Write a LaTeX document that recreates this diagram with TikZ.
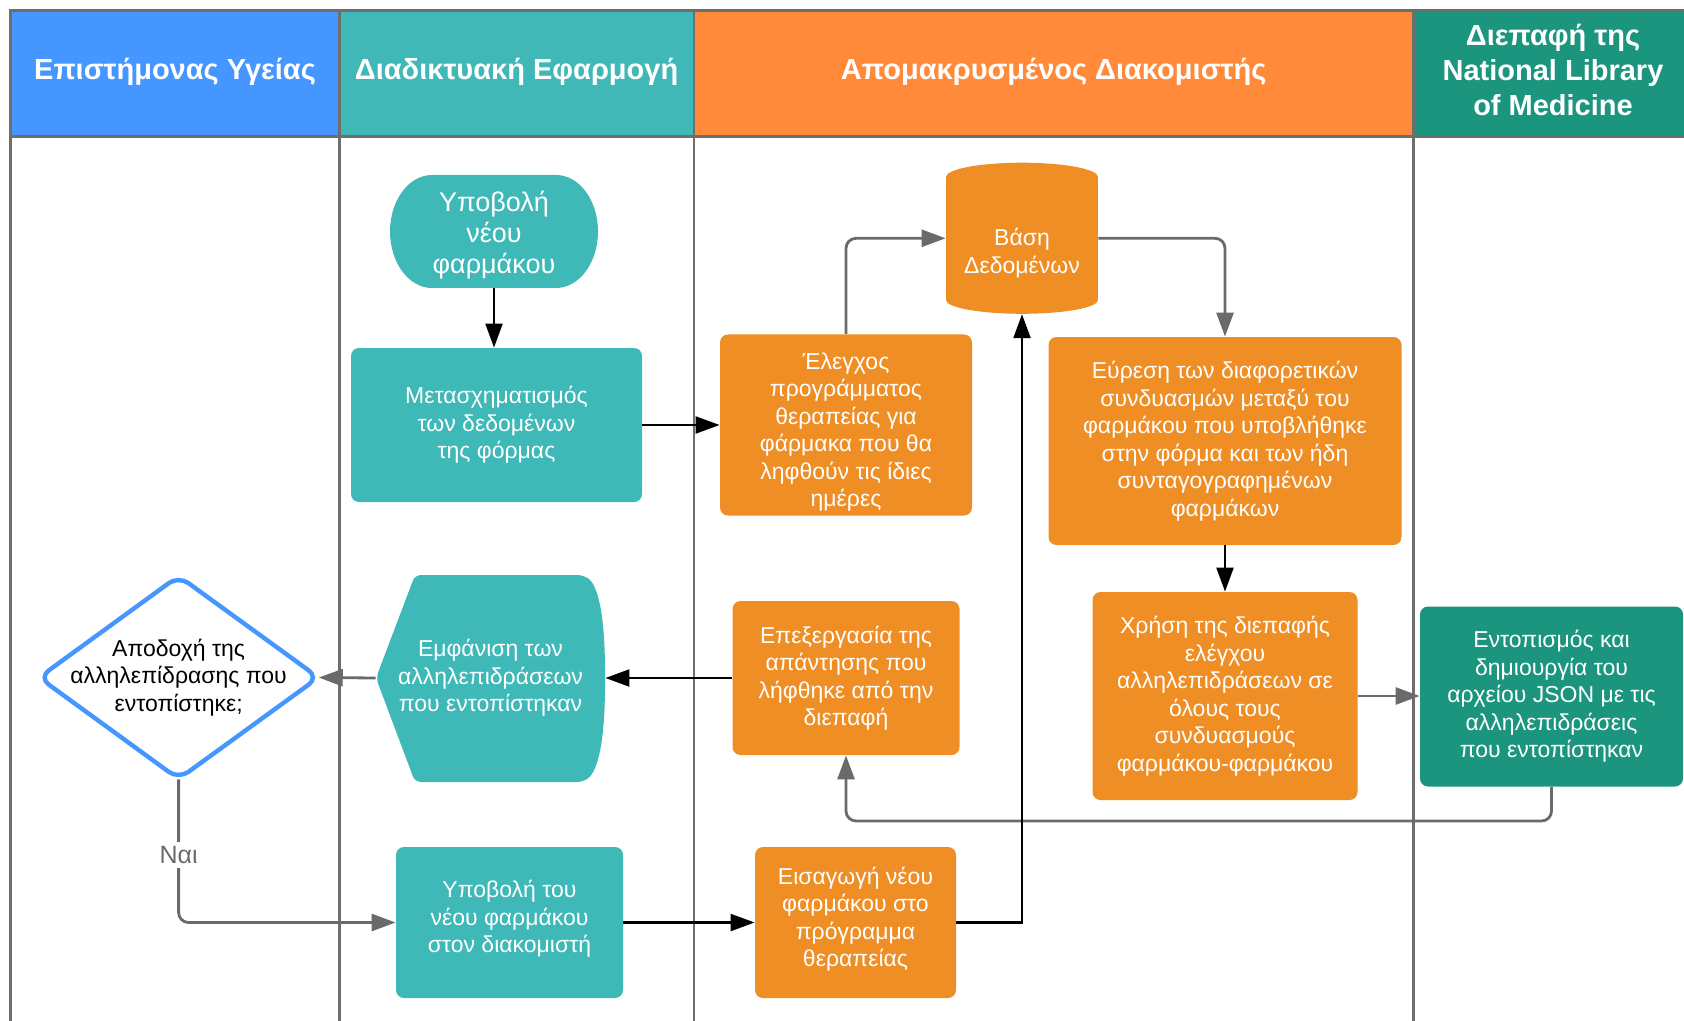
\documentclass[tikz,border=0pt]{standalone}
\usepackage{fontspec}
\setmainfont{Liberation Sans}
\usetikzlibrary{arrows.meta}

\definecolor{laneblue}{HTML}{4596FF}
\definecolor{laneteal}{HTML}{40B8B8}
\definecolor{laneorange}{HTML}{FF8A3A}
\definecolor{lanegreen}{HTML}{1B957E}
\definecolor{nodeteal}{HTML}{3FB8B8}
\definecolor{nodeorange}{HTML}{EF8E25}
\definecolor{framegray}{HTML}{6E6E6E}
\definecolor{linegray}{HTML}{6A6A6A}

\tikzset{
  lanetitle/.style={font=\bfseries\fontsize{14.5}{17.5}\selectfont, text=white, align=center},
  boxtext/.style={font=\fontsize{11.5}{13.75}\selectfont, align=center, inner sep=0pt},
  box/.style={boxtext, rounded corners=4pt, text=white},
  tealbox/.style={box, fill=nodeteal},
  orangebox/.style={box, fill=nodeorange},
  greenbox/.style={box, fill=lanegreen},
  framerule/.style={draw=framegray, line width=1.3pt},
  flow/.style={draw=black, line width=1.1pt, -{Triangle[length=12pt,width=8.5pt]}},
  gflow/.style={draw=linegray, line width=1.4pt, rounded corners=5pt, -{Triangle[length=12pt,width=8.5pt]}}
}

\begin{document}
\begin{tikzpicture}[x=0.5pt,y=-0.5pt]
\useasboundingbox (0,0) rectangle (1684,1021);
\clip (0,0) rectangle (1684,1021);

% lane headers
\fill[laneblue]   (10.7,10.7)   rectangle (339.4,136.4);
\fill[laneteal]   (339.4,10.7)  rectangle (693.8,136.4);
\fill[laneorange] (693.8,10.7)  rectangle (1413.4,136.4);
\fill[lanegreen]  (1413.4,10.7) rectangle (1700,136.4);

% pool frame and lane dividers
\draw[framerule] (1700,10.7) -- (10.7,10.7) -- (10.7,1040);
\draw[framerule] (10.7,136.4) -- (1700,136.4);
\draw[framerule] (339.4,10.7) -- (339.4,1040);
\draw[framerule] (693.8,10.7) -- (693.8,1040);
\draw[framerule] (1413.4,10.7) -- (1413.4,1040);

\node[lanetitle] (h1) at (175,72) {Επιστήμονας Υγείας};
\node[lanetitle] (h2) at (516.6,72) {Διαδικτυακή Εφαρμογή};
\node[lanetitle] (h3) at (1053.6,72) {Απομακρυσμένος Διακομιστής};
\node[lanetitle] (h4) at (1553,70) {Διεπαφή της\\National Library\\of Medicine};

% terminal: submission of a new drug
\fill[nodeteal] (432,175) -- (556,175)
  .. controls (579.2,175) and (598,200.3) .. (598,231.5)
  .. controls (598,262.7) and (579.2,288) .. (556,288)
  -- (432,288)
  .. controls (408.8,288) and (390,262.7) .. (390,231.5)
  .. controls (390,200.3) and (408.8,175) .. (432,175) -- cycle;
\node[inner sep=0pt, minimum width=104pt, minimum height=56.5pt] (start) at (494,231.5) {};
\node[boxtext, font=\fontsize{13.5}{15.4}\selectfont, text=white] (starttext) at (494,235)
  {Υποβολή\\νέου\\φαρμάκου};

\node[tealbox, minimum width=145.5pt, minimum height=77pt] (form) at (496.5,425)
  {Μετασχηματισμός\\των δεδομένων\\της φόρμας};

\node[orangebox, minimum width=126pt, minimum height=90.5pt] (check) at (846,425) {};
\node[boxtext, text=white] (checktext) at (846,432)
  {Έλεγχος\\προγράμματος\\θεραπείας για\\φάρμακα που θα\\ληφθούν τις ίδιες\\ημέρες};

% database cylinder
\fill[nodeorange] (946,177) rectangle (1098,300);
\fill[nodeorange] (1022,177) ellipse [x radius=76, y radius=14.3];
\fill[nodeorange] (1022,300) ellipse [x radius=76, y radius=13.8];
\node[inner sep=0pt, minimum width=76pt, minimum height=75.5pt] (db) at (1022,238.3) {};
\node[boxtext, text=white] (dbtext) at (1022,253) {Βάση\\Δεδομένων};

\node[orangebox, minimum width=176.5pt, minimum height=104pt] (find) at (1225,441)
  {Εύρεση των διαφορετικών\\συνδυασμών μεταξύ του\\φαρμάκου που υποβλήθηκε\\στην φόρμα και των ήδη\\συνταγογραφημένων\\φαρμάκων};

\node[orangebox, minimum width=132.5pt, minimum height=104pt] (use) at (1225,696)
  {Χρήση της διεπαφής\\ελέγχου\\αλληλεπιδράσεων σε\\όλους τους\\συνδυασμούς\\φαρμάκου-φαρμάκου};

\node[greenbox, minimum width=131.5pt, minimum height=90pt] (json) at (1551.5,696.5)
  {Εντοπισμός και\\δημιουργία του\\αρχείου JSON με τις\\αλληλεπιδράσεις\\που εντοπίστηκαν};

\node[orangebox, minimum width=113.5pt, minimum height=77pt] (proc) at (846,678)
  {Επεξεργασία της\\απάντησης που\\λήφθηκε από την\\διεπαφή};

% display shape
\fill[nodeteal, rounded corners=3pt] (376,678) -- (415,575) -- (583,575)
  .. controls (598,585) and (605,615) .. (605,678)
  .. controls (605,741) and (598,771) .. (583,782)
  -- (415,782) -- cycle;
\node[boxtext, text=white, minimum width=114.5pt, minimum height=103.5pt] (show) at (490.5,678)
  {Εμφάνιση των\\αλληλεπιδράσεων\\που εντοπίστηκαν};

% decision
\draw[draw=laneblue, line width=2.2pt, fill=white, rounded corners=6pt]
  (39,677.5) -- (178.6,576) -- (318.5,677.5) -- (178.6,779) -- cycle;
\node[boxtext, text=black, minimum width=139.75pt, minimum height=101.5pt] (dec) at (178.6,677.5)
  {Αποδοχή της\\αλληλεπίδρασης που\\εντοπίστηκε;};

\node[tealbox, minimum width=113.5pt, minimum height=75.5pt] (submit) at (509.5,922.5) {};
\node[boxtext, text=white] (submittext) at (509.5,919)
  {Υποβολή του\\νέου φαρμάκου\\στον διακομιστή};

\node[orangebox, minimum width=100.5pt, minimum height=75.5pt] (insert) at (855.5,922.5) {};
\node[boxtext, text=white] (inserttext) at (855.5,919)
  {Εισαγωγή νέου\\φαρμάκου στο\\πρόγραμμα\\θεραπείας};

\coordinate (back) at (0,821);

% connectors
\draw[flow] (start.south) -- (start.south |- form.north);
\draw[flow] (form.east) -- (check.west);
\draw[gflow] (check.north) |- (db.west);
\draw[gflow] (db.east) -| (find.north);
\draw[flow] (find.south) -- (use.north);
\draw[gflow] (use.east) -- (use.east -| json.west);
\draw[gflow] (json.south) -- (json.south |- back) -- (proc.south |- back) -- (proc.south);
\draw[flow] (proc.west) -- (show.east);
\draw[gflow] (show.west) -- (dec.east);
\draw[gflow] (dec.south) |- (submit.west);
\node[fill=white, text=linegray, font=\fontsize{12.5}{15}\selectfont, inner sep=2pt] (yes) at (178.6,855) {Ναι};
\draw[flow] (submit.east) -- (insert.west);
\draw[flow] (insert.east) -| (db.south);

\end{tikzpicture}
\end{document}
